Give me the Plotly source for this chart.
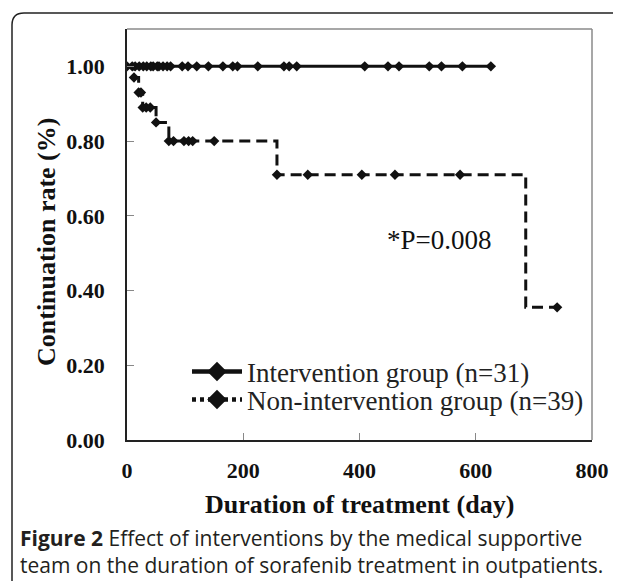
import plotly.graph_objects as go

# ---- data ----
int_days = [0, 9, 14, 21, 28, 34, 41, 45, 52, 55, 62, 69, 75, 95, 105, 120, 140, 165,
            182, 190, 225, 270, 279, 292, 409, 449, 468, 520, 541, 577, 626]
int_rate = [1.00] * len(int_days)

non_step_days = [0, 12, 20, 27, 50, 72, 258, 686, 740]
non_step_rate = [1.00, 0.97, 0.93, 0.89, 0.85, 0.80, 0.71, 0.355, 0.355]

non_cens_days = [12, 20, 24, 27, 33, 40, 50, 72, 80, 98, 106, 113, 150,
                 258, 311, 404, 461, 573, 740]
non_cens_rate = [0.97, 0.93, 0.93, 0.89, 0.89, 0.89, 0.85, 0.80, 0.80, 0.80, 0.80, 0.80, 0.80,
                 0.71, 0.71, 0.71, 0.71, 0.71, 0.355]

x_ticks = [0, 200, 400, 600, 800]
y_ticks = [0.0, 0.2, 0.4, 0.6, 0.8, 1.0]
y_ticklabels = ["0.00", "0.20", "0.40", "0.60", "0.80", "1.00"]

SERIF = "Liberation Serif"
BLACK = "#111111"

W, H = 613, 573
ML, MR, MT, MB = 119, 29, 21, 141
PW, PH = W - ML - MR, H - MT - MB


def px_x(p):
    return (p - ML) / PW


def px_y(p):
    return (H - MB - p) / PH


fig = go.Figure()

# Intervention group (all censored)
fig.add_trace(go.Scatter(
    x=int_days, y=int_rate, mode="lines+markers",
    line=dict(color=BLACK, width=3),
    marker=dict(symbol="diamond", size=8, color=BLACK),
    showlegend=False))

# Non-intervention group: step curve + censor markers
fig.add_trace(go.Scatter(
    x=non_step_days, y=non_step_rate, mode="lines", line_shape="hv",
    line=dict(color=BLACK, width=3, dash="11px,6px"),
    showlegend=False, hoverinfo="skip"))
fig.add_trace(go.Scatter(
    x=non_cens_days, y=non_cens_rate, mode="markers",
    marker=dict(symbol="diamond", size=8, color=BLACK),
    showlegend=False))

# legend entries (two separate legends for exact placement)
fig.add_trace(go.Scatter(
    x=[None], y=[None], mode="lines+markers",
    line=dict(color=BLACK, width=4.5),
    marker=dict(symbol="diamond", size=15, color=BLACK),
    name="Intervention group (n=31)", legend="legend"))
fig.add_trace(go.Scatter(
    x=[None], y=[None], mode="lines+markers",
    line=dict(color=BLACK, width=4.5, dash="4px,4px"),
    marker=dict(symbol="diamond", size=15, color=BLACK),
    name="Non-intervention group (n=39)", legend="legend2"))

leg_common = dict(xanchor="left", yanchor="middle", bgcolor="rgba(0,0,0,0)",
                  font=dict(family=SERIF, size=27, color="#222222"), itemwidth=50)

fig.update_layout(
    width=W, height=H,
    margin=dict(l=ML, r=MR, t=MT, b=MB),
    paper_bgcolor="white", plot_bgcolor="white",
    font=dict(family=SERIF, color=BLACK),
    showlegend=True,
    legend=dict(x=px_x(179), y=px_y(364), **leg_common),
    legend2=dict(x=px_x(179), y=px_y(392), **leg_common),
    xaxis=dict(range=[0, 800], tickvals=x_ticks, ticktext=["<b>%d</b>" % v for v in x_ticks],
               showgrid=False, zeroline=False,
               showline=True, linecolor="#222222", linewidth=1.5,
               ticks="inside", ticklen=7, tickcolor="#888888", tickwidth=1,
               tickfont=dict(family=SERIF, size=22, color=BLACK),
               ticklabelstandoff=10),
    yaxis=dict(range=[0, 1.1], tickvals=y_ticks, ticktext=["<b>%s</b>" % t for t in y_ticklabels],
               showgrid=False, zeroline=False,
               showline=True, linecolor="#222222", linewidth=1.5,
               ticks="inside", ticklen=7, tickcolor="#888888", tickwidth=1,
               tickfont=dict(family=SERIF, size=22, color=BLACK),
               ticklabelstandoff=16),
)

# axis titles
fig.add_annotation(x=0.5, y=px_y(497), xref="paper", yref="paper", showarrow=False,
                   text="<b>Duration of treatment (day)</b>", yanchor="middle",
                   font=dict(family=SERIF, size=26, color=BLACK))
fig.add_annotation(x=px_x(39), y=px_y(234), xref="paper", yref="paper", showarrow=False,
                   text="<b>Continuation rate (%)</b>", textangle=-90,
                   xanchor="center", yanchor="middle",
                   font=dict(family=SERIF, size=26, color=BLACK))

# plot area frame (top and right, gray)
fig.add_shape(type="line", xref="x domain", yref="y domain", x0=0, x1=1, y0=1, y1=1,
              line=dict(color="#8a8a8a", width=1.5))
fig.add_shape(type="line", xref="x domain", yref="y domain", x0=1, x1=1, y0=0, y1=1,
              line=dict(color="#8a8a8a", width=1.5))

# outer rounded border (top-left visible)
L = px_x(4)
T = px_y(5)
r_x = 12 / PW
r_y = 12 / PH
fig.add_shape(type="path", xref="paper", yref="paper",
              path=f"M {L},-0.6 L {L},{T - r_y} Q {L},{T} {L + r_x},{T} L 1.3,{T}",
              line=dict(color="#222222", width=1.5))

# p-value annotation
fig.add_annotation(x=537, y=0.535, xref="x", yref="y", text="*P=0.008", showarrow=False,
                   font=dict(family=SERIF, size=27, color=BLACK))

# caption
CAP_FONT = dict(family="Open Sans", size=21, color="#231f20")
fig.add_annotation(x=px_x(10), y=px_y(530), xref="paper", yref="paper",
                   xanchor="left", yanchor="middle", align="left", showarrow=False,
                   text="<b>Figure 2</b> Effect of interventions by the medical supportive",
                   font=CAP_FONT)
fig.add_annotation(x=px_x(10), y=px_y(557), xref="paper", yref="paper",
                   xanchor="left", yanchor="middle", align="left", showarrow=False,
                   text="team on the duration of sorafenib treatment in outpatients.",
                   font=CAP_FONT)

fig.write_html("out.html")
